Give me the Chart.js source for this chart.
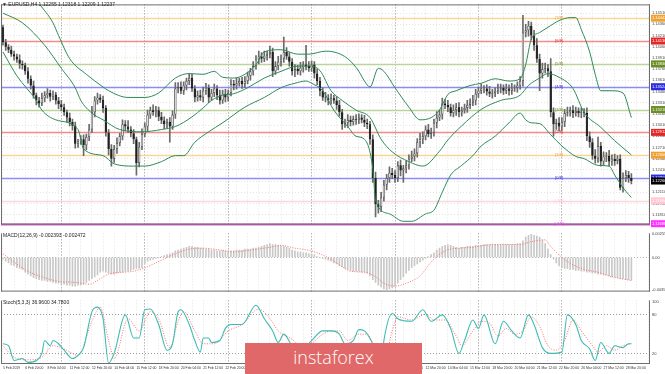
<!DOCTYPE html>
<html>
<head>
<meta charset="utf-8">
<title>EURUSD H4</title>
<script src="https://cdn.jsdelivr.net/npm/chart.js@4.4.1/dist/chart.umd.min.js"></script>
<style>
  html, body { margin: 0; padding: 0; background: #fff; }
  #wrap { position: relative; width: 665px; height: 374px; overflow: hidden; }
  #wrap canvas { position: absolute; left: 0; }
  .cap { position: absolute; font: 5px "Liberation Sans", Arial, sans-serif; color: #222; white-space: nowrap; }
  #logo { position: absolute; left: 245px; top: 343px; width: 177px; height: 31px; background: #e06868;
          color: #fff; font: 300 18px "Open Sans", sans-serif; text-align: center; line-height: 28px; }
</style>
</head>
<body>
<div id="wrap">
  <canvas id="priceChart" width="665" height="229" style="top:0"></canvas>
  <canvas id="macdChart" width="665" height="67" style="top:229px"></canvas>
  <canvas id="stochChart" width="665" height="78" style="top:296px"></canvas>
  <div class="cap" style="left:2px;top:1px">▼ EURUSD,H4 1.12255 1.12318 1.12209 1.12237</div>
  <div class="cap" style="left:3px;top:232px">MACD(12,26,9) -0.002393 -0.002472</div>
  <div class="cap" style="left:3px;top:299px">Stoch(5,3,3) 36.9600 34.7800</div>
  <div id="logo">instaforex</div>
</div>
<script>
// ---- H4 candles, bar 0 = 5 Feb 12:00 ----
const firstOpen = 1.1432;
const close = [
  1.1412,1.1406,1.1402,1.1396,1.1393,1.1389,1.1383,1.1381,1.1373,1.1363,1.1354,1.1341,1.1334,1.1330,1.1337,1.1341,1.1344,1.1339,1.1342,1.1334,1.1329,
  1.1325,1.1318,1.1311,1.1305,1.1300,1.1276,1.1279,1.1282,1.1274,1.1285,1.1295,1.1318,1.1334,1.1338,1.1335,1.1324,1.1291,1.1269,1.1256,1.1269,1.1277,1.1286,1.1302,1.1299,1.1295,1.1290,1.1282,1.1250,1.1272,1.1289,
  1.1299,1.1315,1.1321,1.1318,1.1321,1.1312,1.1307,1.1302,1.1305,1.1299,1.1315,1.1350,1.1352,1.1347,1.1354,1.1360,1.1364,1.1350,1.1338,1.1341,1.1338,1.1347,1.1351,1.1338,1.1344,1.1350,1.1341,1.1334,1.1343,1.1338,
  1.1344,1.1356,1.1354,1.1357,1.1360,1.1356,1.1360,1.1367,1.1373,1.1380,1.1389,1.1393,1.1390,1.1394,1.1396,1.1399,1.1373,1.1380,1.1386,1.1390,1.1399,1.1393,1.1386,1.1373,1.1376,1.1373,1.1378,1.1382,1.1380,1.1377,
  1.1382,1.1370,1.1360,1.1347,1.1338,1.1337,1.1334,1.1337,1.1334,1.1328,1.1318,1.1302,1.1304,1.1308,1.1305,1.1309,1.1308,1.1311,1.1308,1.1304,1.1302,1.1282,1.1230,1.1195,1.1191,1.1204,1.1221,1.1230,1.1237,1.1234,
  1.1230,1.1247,1.1240,1.1243,1.1247,1.1256,1.1259,1.1263,1.1278,1.1282,1.1286,1.1295,1.1289,1.1291,1.1304,1.1311,1.1315,1.1330,1.1328,1.1325,1.1317,1.1321,1.1325,1.1318,1.1321,1.1324,1.1328,1.1331,1.1334,1.1343,
  1.1347,1.1350,1.1350,1.1346,1.1343,1.1344,1.1347,1.1350,1.1351,1.1347,1.1350,1.1347,1.1350,1.1351,1.1354,1.1360,1.1425,1.1428,1.1434,1.1421,1.1408,1.1390,1.1370,1.1376,1.1377,1.1373,1.1318,1.1302,1.1304,1.1299,
  1.1305,1.1317,1.1318,1.1321,1.1317,1.1320,1.1317,1.1318,1.1317,1.1286,1.1278,1.1260,1.1256,1.1273,1.1252,1.1259,1.1260,1.1252,1.1256,1.1253,1.1256,1.1217,1.1230,1.1234,1.1230,1.1226
];
// wick lengths above / below the body, in pips
const wickUp = [
  3,4,3,5,4,3,6,4,3,5,4,6,3,4,7,5,6,4,5,3,4,
  5,4,3,6,4,5,3,5,6,4,7,8,5,6,4,5,3,4,6,5,7,4,6,5,8,4,5,3,6,7,
  5,6,4,7,5,4,6,5,4,6,5,8,6,7,5,4,6,5,4,6,7,5,6,4,5,6,4,7,5,6,
  4,6,5,7,4,5,6,5,4,6,5,7,5,6,4,8,5,6,7,5,20,6,5,4,6,5,7,4,26,6,
  5,4,6,5,4,7,5,6,4,5,6,4,5,7,5,4,6,5,4,6,5,4,6,8,5,7,6,5,8,6,
  6,5,7,4,6,5,7,6,5,8,6,5,7,6,5,8,6,7,5,6,4,7,5,6,4,5,6,5,7,6,
  5,6,4,5,7,5,4,6,5,4,6,5,7,4,5,6,23,8,6,5,7,9,6,8,7,5,17,6,5,7,
  6,5,7,4,6,5,4,6,5,7,6,5,8,12,5,6,4,7,5,6,4,5,7,6,5,6
];
const wickDown = [
  4,5,4,3,5,4,6,5,4,6,5,4,6,5,3,5,4,6,4,5,6,
  5,4,6,5,6,6,5,4,14,6,5,4,6,5,4,6,5,8,10,5,6,4,5,6,4,5,6,16,5,4,
  4,6,5,4,6,5,4,6,5,21,4,5,6,4,5,6,5,4,6,5,4,6,5,7,4,5,6,5,4,6,
  5,4,6,5,4,6,5,4,6,5,4,6,5,4,6,5,7,4,5,6,5,4,6,5,7,4,5,6,5,4,
  4,6,5,7,4,5,6,5,4,6,5,7,4,6,5,4,6,5,4,5,6,7,6,17,8,6,5,7,6,5,
  6,5,7,16,6,5,4,6,5,7,6,5,4,6,5,7,4,6,5,6,4,5,7,6,5,4,6,5,4,6,
  5,4,6,5,4,6,5,4,6,5,4,6,5,4,6,5,7,6,8,6,7,5,23,6,5,7,6,16,7,6,
  5,6,4,5,6,4,5,6,5,6,7,5,6,5,6,5,7,6,5,6,4,3,6,5,6,4
];

// Bollinger bands (20, 2) at these bars
const upperX = [0,7,13,18,20,24,30,36,38,45,51,56,62,67,72,76,79,83,87,91,94,100,106,110,116,119,124,128,130,132,135,137,141,146,150,154,157,160,163,168,172,177,182,186,188,190,193,196,200,204,206,208,211,213,215,219,223,226];
const upperY = [1.1523,1.1497,1.1464,1.1438,1.1421,1.1390,1.1369,1.1352,1.1347,1.1338,1.1338,1.1344,1.1364,1.1370,1.1369,1.1373,1.1365,1.1364,1.1369,1.1382,1.1399,1.1402,1.1396,1.1396,1.1400,1.1399,1.1390,1.1373,1.1360,1.1352,1.1377,1.1373,1.1351,1.1325,1.1308,1.1311,1.1321,1.1342,1.1347,1.1354,1.1357,1.1363,1.1360,1.1363,1.1382,1.1416,1.1425,1.1432,1.1441,1.1445,1.1445,1.1429,1.1399,1.1369,1.1347,1.1347,1.1344,1.1311];
const midX = [0,7,15,21,26,28,32,36,42,50,57,62,68,72,75,79,83,88,94,100,106,110,114,118,122,127,132,136,140,146,151,157,160,165,172,179,186,189,193,196,200,205,209,215,220,226];
const midY = [1.1451,1.1438,1.1408,1.1377,1.1351,1.1334,1.1317,1.1308,1.1295,1.1292,1.1295,1.1299,1.1312,1.1324,1.1334,1.1341,1.1343,1.1351,1.1364,1.1373,1.1380,1.1380,1.1374,1.1347,1.1334,1.1321,1.1311,1.1282,1.1265,1.1252,1.1246,1.1266,1.1281,1.1300,1.1322,1.1334,1.1341,1.1354,1.1364,1.1370,1.1365,1.1350,1.1318,1.1298,1.1280,1.1261];
const lowerX = [0,5,12,14,19,27,29,36,40,47,51,57,62,65,69,74,79,87,94,100,105,109,111,115,119,124,127,130,133,134,139,144,147,152,155,158,161,165,169,172,177,182,186,188,190,193,197,201,206,209,214,218,220,223,225,226];
const lowerY = [1.1399,1.1367,1.1334,1.1321,1.1308,1.1295,1.1269,1.1260,1.1249,1.1246,1.1246,1.1252,1.1260,1.1260,1.1278,1.1292,1.1304,1.1325,1.1338,1.1351,1.1357,1.1360,1.1357,1.1347,1.1321,1.1299,1.1286,1.1282,1.1243,1.1200,1.1182,1.1172,1.1172,1.1182,1.1187,1.1211,1.1234,1.1247,1.1260,1.1273,1.1286,1.1304,1.1317,1.1308,1.1304,1.1303,1.1288,1.1273,1.1259,1.1256,1.1247,1.1246,1.1234,1.1217,1.1208,1.1204];

// Murrey math levels
const mmLevels = [1.14442,1.14136,1.13830,1.13524,1.13218,1.12912,1.12606,1.12300,1.11994,1.11688];
const mmNames = ['[7/8]','[6/8]','[5/8]','[4/8]','[3/8]','[2/8]','[1/8]','[0/8]','[-1/8]','[-2/8]'];

// MACD(12,26,9): histogram per bar, signal read at these bars
const macdHist = [
  -0.0002,-0.0004,-0.0006,-0.0008,-0.0009,-0.0011,-0.0012,-0.0013,-0.0016,-0.0018,-0.0020,-0.0022,-0.0023,-0.0024,-0.0025,-0.0025,-0.0026,-0.0026,-0.0027,-0.0028,-0.0028,
  -0.0029,-0.0029,-0.0030,-0.0030,-0.0031,-0.0031,-0.0030,-0.0030,-0.0029,-0.0027,-0.0025,-0.0023,-0.0021,-0.0019,-0.0016,-0.0015,-0.0016,-0.0017,-0.0018,-0.0018,-0.0017,-0.0016,-0.0016,-0.0015,-0.0015,-0.0014,-0.0013,-0.0012,-0.0012,-0.0011,
  -0.0007,-0.0004,-0.0003,-0.0002,-0.0001,0,0.0001,0.0002,0.0003,0.0004,0.0005,0.0007,0.0008,0.0009,0.0010,0.0011,0.0012,0.0012,0.0011,0.0011,0.0010,0.0010,0.0009,0.0009,0.0008,0.0008,0.0007,0.0007,0.0007,0.0007,
  0.0007,0.0007,0.0007,0.0008,0.0008,0.0008,0.0009,0.0009,0.0009,0.0010,0.0010,0.0011,0.0012,0.0013,0.0014,0.0015,0.0014,0.0014,0.0013,0.0012,0.0012,0.0011,0.0010,0.0008,0.0007,0.0006,0.0006,0.0005,0.0005,0.0004,
  0.0004,0.0003,0.0001,0,-0.0001,-0.0002,-0.0003,-0.0004,-0.0006,-0.0007,-0.0009,-0.0010,-0.0012,-0.0013,-0.0014,-0.0015,-0.0015,-0.0015,-0.0016,-0.0016,-0.0017,-0.0020,-0.0024,-0.0027,-0.0030,-0.0032,-0.0034,-0.0035,-0.0034,-0.0033,
  -0.0031,-0.0028,-0.0024,-0.0021,-0.0017,-0.0014,-0.0011,-0.0009,-0.0007,-0.0005,-0.0003,-0.0001,0.0001,0.0003,0.0005,0.0008,0.0010,0.0012,0.0013,0.0014,0.0013,0.0012,0.0011,0.0010,0.0011,0.0011,0.0012,0.0012,0.0012,0.0013,
  0.0013,0.0013,0.0014,0.0014,0.0014,0.0014,0.0014,0.0014,0.0014,0.0014,0.0014,0.0014,0.0014,0.0014,0.0015,0.0015,0.0018,0.0022,0.0024,0.0025,0.0024,0.0023,0.0022,0.0019,0.0015,0.0009,0.0003,-0.0002,-0.0006,-0.0009,
  -0.0011,-0.0012,-0.0012,-0.0013,-0.0013,-0.0014,-0.0014,-0.0015,-0.0015,-0.0016,-0.0016,-0.0017,-0.0017,-0.0018,-0.0018,-0.0019,-0.0019,-0.0020,-0.0021,-0.0021,-0.0022,-0.0023,-0.0023,-0.0024,-0.0024,-0.0025
];
const sigX = [0,4,9,14,20,26,31,35,38,43,47,52,57,62,67,72,78,83,89,96,100,105,111,118,122,125,130,134,137,141,145,150,154,159,164,169,173,178,186,190,195,197,201,205,209,214,219,224,226];
const macdSignal = [0.0004,-0.0005,-0.0015,-0.0021,-0.0026,-0.0027,-0.0029,-0.0023,-0.0018,-0.0016,-0.0015,-0.0010,-0.0003,0.0004,0.0009,0.0010,0.0008,0.0006,0.0008,0.0011,0.0013,0.0010,0.0007,-0.0002,-0.0010,-0.0015,-0.0016,-0.0021,-0.0028,-0.0031,-0.0028,-0.0020,-0.0005,0.0007,0.0010,0.0011,0.0013,0.0014,0.0014,0.0017,0.0019,0.0012,0,-0.0008,-0.0013,-0.0016,-0.0021,-0.0024,-0.0025];
const macdTicks = [0.00255, 0, -0.00355];

// Stochastic(5,3,3)
const stochX = [0,2,4,7,9,12,14,15,17,18,20,22,25,27,29,32,34,36,38,40,44,47,49,51,53,56,59,61,63,64,67,69,71,72,74,75,78,80,82,86,91,94,97,99,101,104,107,111,115,118,121,123,126,128,130,133,136,137,140,142,147,151,154,158,161,164,166,169,171,173,177,180,183,186,189,191,194,197,201,203,206,208,211,213,215,218,220,223,225,226];
const stochMain = [35,32,9,12,6,9,20,40,32,40,35,25,12,17,29,85,92,74,5,20,80,44,44,88,89,65,25,35,85,88,65,40,22,44,44,37,40,59,65,65,95,74,55,37,50,32,25,40,55,55,50,35,40,57,55,35,3,40,82,74,70,88,70,80,59,20,40,72,59,80,35,70,55,44,80,65,29,20,22,80,65,40,27,9,37,20,32,29,35,35];
const stochSigX = [0,4,9,14,18,22,27,32,35,38,40,45,49,53,56,60,63,65,69,72,76,81,86,92,96,99,104,107,111,115,118,121,124,128,131,134,137,140,142,147,152,155,159,163,165,169,172,175,178,181,184,187,190,193,196,199,202,205,208,212,214,217,220,223,226];
const stochSignal = [32,14,10,14,32,27,17,70,92,40,12,74,55,85,74,29,70,85,55,35,35,55,65,89,74,55,42,32,36,50,55,55,40,50,50,25,9,55,77,72,81,72,72,47,32,55,70,67,47,59,50,55,77,62,32,25,40,72,55,32,22,32,25,32,35];
const stochTicks = [100, 80, 20];

// time axis
const weekStarts = [21, 51, 81, 111, 141, 171, 201];
const timeLabels = ['5 Feb 2019','6 Feb 20:00','8 Feb 04:00','11 Feb 12:00','12 Feb 20:00','14 Feb 04:00','15 Feb 12:00',
  '18 Feb 20:00','20 Feb 04:00','21 Feb 12:00','22 Feb 20:00','26 Feb 04:00','27 Feb 12:00','28 Feb 20:00','4 Mar 04:00',
  '5 Mar 12:00','6 Mar 20:00','8 Mar 04:00','11 Mar 12:00','12 Mar 20:00','14 Mar 04:00','15 Mar 12:00','18 Mar 20:00',
  '20 Mar 04:00','21 Mar 12:00','22 Mar 20:00','26 Mar 04:00','27 Mar 12:00','28 Mar 20:00'];
const priceTicks = [1.1451,1.1436,1.1421,1.1406,1.1391,1.1376,1.1361,1.1346,1.1331,1.1316,1.1301,1.1286,1.1271,1.1256,1.1241,1.1226,1.1211,1.1196,1.1181];

// ---- styling ----
const X_MIN = -0.7, X_MAX = 232.7;
const P_MIN = 1.11676, P_MAX = 1.14627;
const PIP = 0.0001;
const AXIS_W = 15;
const LEVEL_TAG_BAR = 200;
const BB_COLOR = '#2e8b57';
const mmLine = ['#f9d596','#f58a8a','#bcd39a','#8c8cf5','#bcd39a','#f58a8a','#f9d596','#8c8cf5','#f9d7de','#d35ad3'];
const mmBox = ['#f0a030','#e32626','#6b8e23','#2b2be0','#6b8e23','#e32626','#f0a030','#2b2be0','#ffc8d2','#ff33ff'];
const tiny = { size: 4 };

Chart.defaults.font.family = '"Liberation Sans", Arial, sans-serif';

const open = close.map((c, i) => (i === 0 ? firstOpen : close[i - 1]));
const high = close.map((c, i) => Math.max(open[i], c) + wickUp[i] * PIP);
const low = close.map((c, i) => Math.min(open[i], c) - wickDown[i] * PIP);

function gridTicks() {
  const t = [];
  for (let v = 0; v <= 232; v += 4) t.push({ value: v });
  weekStarts.forEach(v => t.push({ value: v }));
  return t;
}

function timeAxis(showLabels) {
  return {
    type: 'linear', min: X_MIN, max: X_MAX, offset: false,
    afterBuildTicks: s => { s.ticks = gridTicks(); },
    afterFit: s => { s.height = showLabels ? 10 : 0; },
    grid: {
      offset: false, drawTicks: false, lineWidth: 1,
      color: c => (c.tick && weekStarts.includes(c.tick.value)) ? '#8d8d8d' : '#e4e4e4'
    },
    border: { display: false, dash: [1, 2] },
    ticks: {
      display: showLabels, autoSkip: false, maxRotation: 0, minRotation: 0, align: 'start',
      padding: 2, font: { size: 3.4 }, color: '#333',
      callback: v => (v % 8 === 0 && timeLabels[v / 8]) ? timeLabels[v / 8] : ''
    }
  };
}

function valueAxis(min, max, ticks, fmt, gridColor) {
  return {
    position: 'right', min: min, max: max, beginAtZero: false,
    afterBuildTicks: s => { s.ticks = ticks.map(v => ({ value: v })); },
    afterFit: s => { s.width = AXIS_W; },
    grid: { drawTicks: false, color: c => gridColor(c.tick ? c.tick.value : null) },
    border: { display: false, dash: [1, 2] },
    ticks: { padding: 2, font: tiny, color: '#444', callback: fmt }
  };
}

function lineSet(xs, ys, color, extra) {
  return Object.assign({
    type: 'line',
    data: xs.map((x, k) => ({ x: x, y: ys[k] })),
    borderColor: color, borderWidth: 1, pointRadius: 0, fill: false,
    cubicInterpolationMode: 'monotone', order: 0
  }, extra || {});
}

// panel frame
const frame = {
  id: 'frame',
  afterDraw(chart, args, opts) {
    const { ctx, chartArea: a } = chart;
    ctx.save();
    ctx.strokeStyle = '#6e6e6e';
    ctx.lineWidth = 1;
    ctx.beginPath();
    if (opts.top) { ctx.moveTo(a.left, a.top + 0.5); ctx.lineTo(a.right, a.top + 0.5); }
    ctx.moveTo(a.left + 0.5, a.top); ctx.lineTo(a.left + 0.5, a.bottom);
    ctx.moveTo(a.right - 0.5, a.top); ctx.lineTo(a.right - 0.5, a.bottom);
    ctx.moveTo(a.left, a.bottom - 0.5); ctx.lineTo(a.right, a.bottom - 0.5);
    ctx.stroke();
    ctx.restore();
  }
};
Chart.register(frame);

// Murrey lines, their tags and the price boxes on the right
const priceDecor = {
  id: 'priceDecor',
  beforeDatasetsDraw(chart) {
    const { ctx, chartArea: a, scales: { y } } = chart;
    ctx.save();
    mmLevels.forEach((lv, k) => {
      const py = Math.round(y.getPixelForValue(lv)) + 0.5;
      ctx.strokeStyle = mmLine[k];
      ctx.lineWidth = k === mmLevels.length - 1 ? 2 : 1.4;
      ctx.beginPath();
      ctx.moveTo(a.left, py);
      ctx.lineTo(a.right, py);
      ctx.stroke();
    });
    ctx.restore();
  },
  afterDraw(chart) {
    const { ctx, chartArea: a, scales: { x, y } } = chart;
    ctx.save();
    ctx.font = '4px "Liberation Sans", Arial, sans-serif';
    ctx.textBaseline = 'middle';
    mmLevels.forEach((lv, k) => {
      const py = y.getPixelForValue(lv);
      ctx.textAlign = 'center';
      ctx.fillStyle = mmBox[k];
      ctx.fillText(mmNames[k], x.getPixelForValue(LEVEL_TAG_BAR), py);
      ctx.fillRect(a.right + 1, py - 3.5, chart.width - a.right - 1, 7);
      ctx.textAlign = 'left';
      ctx.fillStyle = '#fff';
      ctx.fillText(lv.toFixed(5), a.right + 2, py);
    });
    const last = close[close.length - 1];
    const ly = y.getPixelForValue(last);
    ctx.fillStyle = '#000';
    ctx.fillRect(a.right + 1, ly - 3.5, chart.width - a.right - 1, 7);
    ctx.fillStyle = '#fff';
    ctx.fillText(last.toFixed(5), a.right + 2, ly);
    ctx.restore();
  }
};

const common = {
  responsive: false, devicePixelRatio: 1, animation: false,
  plugins: { legend: { display: false }, tooltip: { enabled: false } }
};

new Chart(document.getElementById('priceChart'), {
  type: 'bar',
  data: {
    datasets: [
      {
        data: close.map((c, i) => ({ x: i, y: [low[i], high[i]] })),
        backgroundColor: '#6a6a6a', barThickness: 1, grouped: false, order: 3
      },
      {
        data: close.map((c, i) => ({ x: i, y: [open[i], c] })),
        backgroundColor: close.map((c, i) => (c >= open[i] ? '#ffffff' : '#111111')),
        borderColor: close.map((c, i) => (c >= open[i] ? '#555555' : '#111111')),
        borderWidth: 0.8, borderSkipped: false, inflateAmount: 0,
        barThickness: 2.4, grouped: false, order: 2
      },
      lineSet(upperX, upperY, BB_COLOR),
      lineSet(midX, midY, BB_COLOR),
      lineSet(lowerX, lowerY, BB_COLOR)
    ]
  },
  options: Object.assign({}, common, {
    layout: { padding: { left: 1, right: 0, top: 1, bottom: 1 } },
    plugins: Object.assign({}, common.plugins, { frame: { top: true } }),
    scales: {
      x: timeAxis(false),
      y: valueAxis(P_MIN, P_MAX, priceTicks, v => v.toFixed(5), () => '#e4e4e4')
    }
  }),
  plugins: [priceDecor]
});

new Chart(document.getElementById('macdChart'), {
  type: 'bar',
  data: {
    datasets: [
      {
        data: macdHist.map((v, i) => ({ x: i, y: v })),
        backgroundColor: '#c8c8c8', barThickness: 1, grouped: false, order: 2
      },
      lineSet(sigX, macdSignal, '#ff6e6e', { borderDash: [1, 1.5] })
    ]
  },
  options: Object.assign({}, common, {
    layout: { padding: { left: 1, right: 0, top: 2, bottom: 2 } },
    scales: {
      x: timeAxis(false),
      y: valueAxis(-0.0037, 0.0026, macdTicks,
        v => (v === 0 ? '0.00' : v.toFixed(6)),
        v => (v === 0 ? '#b8b8b8' : 'rgba(0,0,0,0)'))
    }
  })
});

new Chart(document.getElementById('stochChart'), {
  type: 'line',
  data: {
    datasets: [
      lineSet(stochX, stochMain, '#3cbcb4', { borderWidth: 1.1, order: 0 }),
      lineSet(stochSigX, stochSignal, '#ff7070', { borderDash: [1, 1.5], order: 1 })
    ]
  },
  options: Object.assign({}, common, {
    layout: { padding: { left: 1, right: 0, top: 2, bottom: 0 } },
    scales: {
      x: timeAxis(true),
      y: valueAxis(3.5, 102.5, stochTicks, v => String(v),
        v => ((v === 80 || v === 20) ? '#9a9a9a' : 'rgba(0,0,0,0)'))
    }
  })
});
</script>
</body>
</html>
